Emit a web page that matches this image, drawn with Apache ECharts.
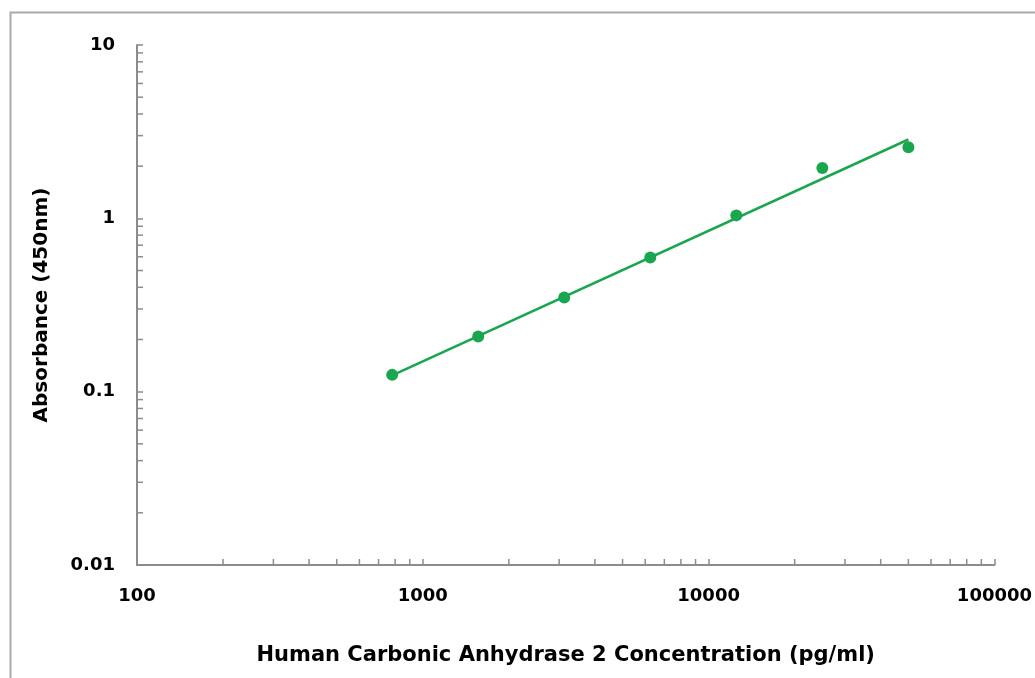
<!DOCTYPE html>
<html>
<head>
<meta charset="utf-8">
<script src="https://cdn.jsdelivr.net/npm/echarts@6/dist/echarts.min.js"></script>
<style>
html,body{margin:0;padding:0;background:#fff;}
#chart{width:1035px;height:678px;}
</style>
</head>
<body>
<div id="chart"></div>
<script>
// Data
const concentrations = [781.25, 1562.5, 3125, 6250, 12500, 25000, 50000];
const absorbance = [0.125, 0.208, 0.349, 0.595, 1.04, 1.95, 2.57];
// Fitted trend line endpoints
const fitX = [781.25, 50000];
const fitY = [0.124, 2.85];
const xDecades = [100, 1000, 10000];
const yDecades = [0.01, 0.1, 1];
const xTitle = 'Human Carbonic Anhydrase 2 Concentration (pg/ml)';
const yTitle = 'Absorbance (450nm)';

const minorX = [];
xDecades.forEach(d => { for (let k = 2; k <= 9; k++) minorX.push(d * k); });
const minorY = [];
yDecades.forEach(d => { for (let k = 2; k <= 9; k++) minorY.push(+(d * k).toPrecision(3)); });

const green = '#1aa64f';
const axisGray = '#8c8c8c';
const font = 'DejaVu Sans';

const chart = echarts.init(document.getElementById('chart'), null, {renderer: 'canvas'});
chart.setOption({
  backgroundColor: '#fff',
  animation: false,
  graphic: [{
    type: 'rect', left: 8, top: 10, z: -1,
    shape: {width: 1100, height: 700},
    style: {fill: 'none', stroke: '#a9a9a9', lineWidth: 2}
  }],
  grid: {left: 137, right: 38, top: 45, bottom: 113, containLabel: false},
  xAxis: {
    type: 'log', logBase: 10, min: 100, max: 100000,
    name: xTitle, nameLocation: 'middle', nameGap: 80,
    nameTextStyle: {fontFamily: font, fontWeight: 'bold', fontSize: 21, color: '#000'},
    axisLine: {show: true, lineStyle: {color: axisGray, width: 2}},
    axisTick: {show: true, inside: true, length: 6, lineStyle: {color: axisGray, width: 1.5}},
    axisLabel: {fontFamily: font, fontWeight: 'bold', fontSize: 18, color: '#000', margin: 22,
      formatter: v => String(Math.round(v))},
    splitLine: {show: false}
  },
  yAxis: {
    type: 'log', logBase: 10, min: 0.01, max: 10,
    name: yTitle, nameLocation: 'middle', nameGap: 85, nameRotate: 90,
    nameTextStyle: {fontFamily: font, fontWeight: 'bold', fontSize: 20, color: '#000'},
    axisLine: {show: true, lineStyle: {color: axisGray, width: 2}},
    axisTick: {show: true, inside: true, length: 6, lineStyle: {color: axisGray, width: 1.5}},
    axisLabel: {fontFamily: font, fontWeight: 'bold', fontSize: 18, color: '#000', margin: 22,
      formatter: v => { const r = +v.toPrecision(3); return String(r); }},
    splitLine: {show: false}
  },
  series: [
    {
      type: 'custom', silent: true, z: 1,
      data: minorX.map(v => [v]),
      encode: {x: 0},
      renderItem: (params, api) => {
        const p = api.coord([api.value(0), 0.01]);
        return {type: 'line', shape: {x1: p[0], y1: p[1], x2: p[0], y2: p[1] - 6},
          style: {stroke: axisGray, lineWidth: 1.5}};
      }
    },
    {
      type: 'custom', silent: true, z: 1,
      data: minorY.map(v => [v]),
      encode: {y: 0},
      renderItem: (params, api) => {
        const p = api.coord([100, api.value(0)]);
        return {type: 'line', shape: {x1: p[0], y1: p[1], x2: p[0] + 6, y2: p[1]},
          style: {stroke: axisGray, lineWidth: 1.5}};
      }
    },
    {
      type: 'line', z: 3,
      data: fitX.map((x, i) => [x, fitY[i]]),
      showSymbol: false, symbol: 'none',
      lineStyle: {color: green, width: 2.5}
    },
    {
      type: 'scatter', z: 4,
      data: concentrations.map((x, i) => [x, absorbance[i]]),
      symbol: 'circle', symbolSize: 12,
      itemStyle: {color: green, opacity: 1}
    }
  ]
});
</script>
</body>
</html>
